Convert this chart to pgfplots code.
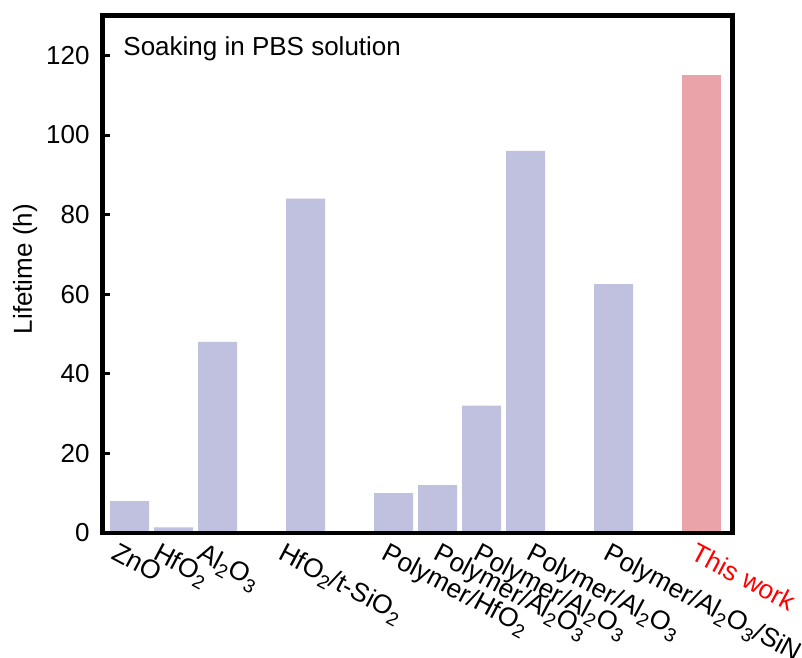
\documentclass[border=0pt]{standalone}
\usepackage{pgfplots}
\pgfplotsset{compat=1.18}
\usepackage{fontspec}
\setmainfont{Liberation Sans}
\definecolor{lav}{RGB}{192,192,223}
\definecolor{pinkbar}{RGB}{235,163,170}
\newcommand{\sub}[1]{\raisebox{-0.4ex}{\fontsize{9.5}{11}\selectfont #1}}
\begin{document}
\begin{tikzpicture}
\begin{axis}[
  scale only axis,
  width=314.9pt, height=258.6pt,
  xmin=-0.614, xmax=13.70, ymin=0, ymax=130,
  axis on top,
  axis line style={line width=2.2pt},
  ytick={0,20,40,60,80,100,120},
  ytick pos=left,
  tick align=inside,
  major tick length=3.75pt,
  y tick style={line width=1.5pt, black},
  xtick={-0.24,0.714,1.714,3.555,5.896,7.078,7.987,9.19,10.94,12.93},
  xticklabels={ZnO, HfO\sub{2}, Al\sub{2}O\sub{3}, HfO\sub{2}/t-SiO\sub{2}, Polymer/HfO\sub{2}, Polymer/Al\sub{2}O\sub{3}, Polymer/Al\sub{2}O\sub{3}, Polymer/Al\sub{2}O\sub{3}, Polymer/Al\sub{2}O\sub{3}/SiN, \textcolor{red}{This work}},
  x tick style={draw=none},
  xticklabel style={yshift=-0.5pt, rotate=-28, anchor=north west, inner sep=0pt, font=\fontsize{13.2}{15}\selectfont},
  yticklabel style={anchor=east, inner sep=0pt, xshift=-6.25pt, font=\fontsize{13}{15}\selectfont},
  /pgf/number format/assume math mode=true,
  ylabel={Lifetime (h)},
  every axis y label/.style={at={(axis description cs:-0.123,0.51)}, rotate=90, anchor=center, font=\fontsize{13}{15}\selectfont},
  ybar, bar width=0.886, bar shift=0pt,
]
\addplot[fill=lav, draw=none] coordinates {(0,8) (1,1.4) (2,48) (4,84) (6,10) (7,12) (8,32) (9,96) (11,62.5)};
\addplot[fill=pinkbar, draw=none] coordinates {(13,115)};
\node[anchor=base west, inner sep=0pt, font=\fontsize{13}{15}\selectfont] at (rel axis cs:0.0326,0.9234) {Soaking in PBS solution};
\coordinate (bl) at (rel axis cs:0,0);
\coordinate (tr) at (rel axis cs:1,1);
\end{axis}
\pgfresetboundingbox
\path[use as bounding box] ([shift={(-51.25pt,-62.15pt)}]bl) rectangle ([shift={(34.85pt,7.85pt)}]tr);
\end{tikzpicture}
\end{document}
